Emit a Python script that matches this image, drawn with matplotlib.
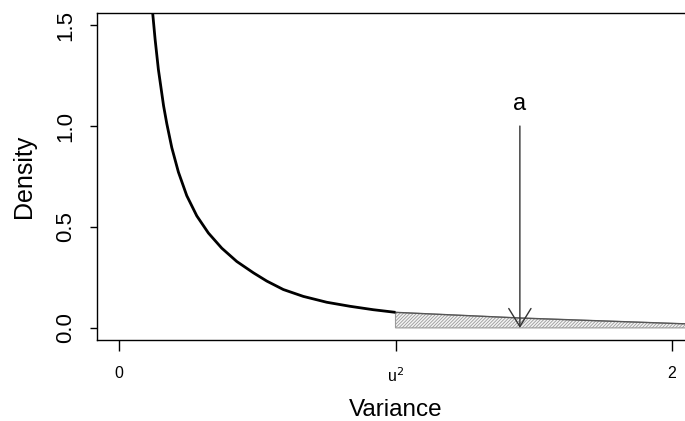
import matplotlib
matplotlib.use("Agg")
import matplotlib.pyplot as plt
from matplotlib.patches import Polygon

plt.rcParams['font.family'] = ['Liberation Sans', 'DejaVu Sans']
plt.rcParams['hatch.linewidth'] = 0.6

# density curve (black part, up to u^2)
curve_x = [0.112, 0.1204, 0.1302, 0.1421, 0.1609, 0.1725, 0.1906, 0.2145, 0.2448,
           0.2810, 0.3230, 0.3714, 0.4257, 0.4857, 0.5342, 0.5942, 0.6665, 0.7512,
           0.8354, 0.9197, 1.000]
curve_y = [1.700, 1.575, 1.430, 1.280, 1.100, 1.012, 0.893, 0.772, 0.655,
           0.555, 0.470, 0.395, 0.329, 0.273, 0.232, 0.190, 0.156, 0.127,
           0.107, 0.090, 0.077]

# tail region (shaded) beyond u^2
tail_x = [1.000, 1.450, 2.029, 2.080]
tail_y = [0.077, 0.049, 0.021, 0.019]

xtick_pos = [0, 1, 2]
xtick_labels = ["0", r"u$^2$", "2"]
ytick_pos = [0.0, 0.5, 1.0, 1.5]
ytick_labels = ["0.0", "0.5", "1.0", "1.5"]

arrow_x = 1.45
arrow_top = 1.0
label_y = 1.11

W, H = 685, 421
fig = plt.figure(figsize=(W / 100, H / 100), dpi=100)
ax = fig.add_axes([97 / W, (H - 340) / H, (694 - 97) / W, (340 - 13) / H])
ax.set_xlim(-0.08, 2.08)
ax.set_ylim(-0.06, 1.56)

# shaded tail polygon
poly_pts = [(tail_x[0], 0)] + list(zip(tail_x, tail_y)) + [(tail_x[-1], 0)]
poly = Polygon(poly_pts, closed=True, facecolor="#f4f4f4", edgecolor="#9a9a9a",
               hatch="//////////", linewidth=0.8)
ax.add_patch(poly)
ax.plot(tail_x, tail_y, color="#555555", lw=1.0)

ax.plot(curve_x, curve_y, color="black", lw=2.0, solid_capstyle="butt",
        solid_joinstyle="round")

# arrow
ax.annotate("", xy=(arrow_x, 0), xytext=(arrow_x, arrow_top),
            arrowprops=dict(arrowstyle="->,head_length=1.3,head_width=0.8",
                            color="#333333", lw=1.0, shrinkA=0, shrinkB=0))
ax.text(arrow_x, label_y, "a", ha="center", va="center", fontsize=17)

ax.set_xticks(xtick_pos)
ax.set_xticklabels(xtick_labels, fontsize=11.5)
ax.set_yticks(ytick_pos)
ax.set_yticklabels(ytick_labels, fontsize=16, rotation=90, va="center")
ax.tick_params(axis="x", length=8, width=1, pad=11)
ax.tick_params(axis="y", length=5, width=1, pad=10)
for s in ax.spines.values():
    s.set_linewidth(1.0)

ax.set_xlabel("Variance", fontsize=17.5, labelpad=10)
ax.set_ylabel("Density", fontsize=18, labelpad=14)

fig.savefig("out.png", dpi=100)
